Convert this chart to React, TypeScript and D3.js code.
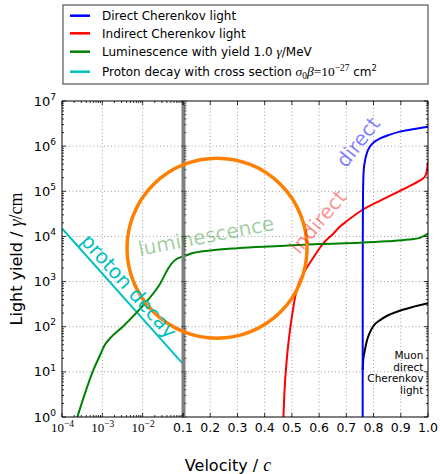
import { useRef, useEffect } from 'react';
import * as d3 from 'd3';

type Pt = [number, number];

// left panel: log velocity 1e-4 .. 0.1
const lumLeft: Pt[] = [
  [2.4e-4, 1], [3.7e-4, 3.3], [6.0e-4, 11], [8.7e-4, 23], [1.12e-3, 38], [1.55e-3, 55],
  [3.2e-3, 100], [9.5e-3, 275], [2.5e-2, 800], [5.2e-2, 2500], [7.1e-2, 3200], [0.1, 3600],
];
const protonDecay: Pt[] = [[1e-4, 1.5e4], [0.1, 15]];

// right panel: linear velocity 0.1 .. 1.0
const lumRight: Pt[] = [
  [0.1, 3550], [0.13, 4200], [0.2, 4900], [0.3, 5500], [0.45, 6100], [0.6, 6800],
  [0.75, 7250], [0.85, 7800], [0.93, 8500], [0.97, 9300], [1.0, 11500],
];
const indirect: Pt[] = [
  [0.469, 1], [0.472, 3], [0.481, 18], [0.49, 60], [0.5, 165], [0.512, 460], [0.525, 900],
  [0.542, 1500], [0.573, 3000], [0.616, 7100], [0.65, 11200], [0.677, 16600], [0.702, 21900],
  [0.757, 38000], [0.83, 64500], [0.897, 102000], [0.95, 148000], [0.971, 174000],
  [0.985, 200000], [0.993, 240000], [0.997, 316000], [1.0, 457000],
];
const direct: Pt[] = [
  [0.76, 1], [0.7602, 1e3], [0.7605, 1e4], [0.761, 5e4], [0.762, 1.5e5], [0.764, 3e5],
  [0.769, 4.9e5], [0.777, 7.5e5], [0.787, 9.8e5], [0.8, 1.2e6], [0.824, 1.48e6], [0.86, 1.8e6],
  [0.897, 2.1e6], [0.95, 2.4e6], [1.0, 2.7e6],
];
const muonDirect: Pt[] = [
  [0.76, 11], [0.762, 18], [0.767, 28], [0.776, 50], [0.788, 78], [0.8, 105], [0.824, 140],
  [0.85, 175], [0.886, 215], [0.94, 270], [1.0, 330],
];

const yTicks = [1, 10, 100, 1e3, 1e4, 1e5, 1e6, 1e7];
const leftXTicks = [1e-4, 1e-3, 1e-2, 1e-1];
const leftXLabels = ['−4', '−3', '−2'];
const rightXTicks = [0.1, 0.2, 0.3, 0.4, 0.5, 0.6, 0.7, 0.8, 0.9, 1.0];
const rightXLabels = ['0.1', '0.2', '0.3', '0.4', '0.5', '0.6', '0.7', '0.8', '0.9', '1.0'];

const circleCenter: Pt = [0.225, 5500];
const muonLabel = ['Muon', 'direct', 'Cherenkov', 'light'];

type Seg = { t: string; sup?: boolean; sub?: boolean; math?: boolean; roman?: boolean };

const legendItems: { color: string; segs: Seg[] }[] = [
  { color: '#0000ff', segs: [{ t: 'Direct Cherenkov light' }] },
  { color: '#ff0000', segs: [{ t: 'Indirect Cherenkov light' }] },
  { color: '#008000', segs: [{ t: 'Luminescence with yield 1.0 ' }, { t: 'γ', math: true }, { t: '/MeV' }] },
  {
    color: '#00bfbf',
    segs: [
      { t: 'Proton decay with cross section ' }, { t: 'σ', math: true }, { t: '0', sub: true, roman: true },
      { t: 'β', math: true }, { t: '=10', roman: true }, { t: '−27', sup: true, roman: true },
      { t: '  cm' }, { t: '2', sup: true },
    ],
  },
];

const SANS = 'DejaVu Sans';
const SERIF = 'Liberation Serif';

function rich(sel: d3.Selection<SVGTextElement, unknown, null, undefined>, segs: Seg[], size: number) {
  let shift = 0;
  for (const s of segs) {
    const target = s.sup ? -size * 0.45 : s.sub ? size * 0.25 : 0;
    const ts = sel.append('tspan').attr('dy', target - shift).text(s.t);
    shift = target;
    let fs = s.sup || s.sub ? size * 0.7 : size;
    if (s.math || s.roman) {
      fs *= 1.12;
      ts.attr('font-family', SERIF);
    }
    if (s.math) ts.attr('font-style', 'italic');
    ts.attr('font-size', fs);
  }
}

export default function App() {
  const svgRef = useRef<SVGSVGElement>(null);

  useEffect(() => {
    if (!svgRef.current) return;
    const svg = d3.select(svgRef.current);
    svg.selectAll('*').remove();

    const top = 101, bottom = 417, left = 62, mid = 183, right = 428;

    const y = d3.scaleLog().domain([1, 1e7]).range([bottom, top]);
    const xL = d3.scaleLog().domain([1e-4, 0.1]).range([left, mid]);
    const xR = d3.scaleLinear().domain([0.1, 1.0]).range([mid, right]);

    const defs = svg.append('defs');
    defs.append('clipPath').attr('id', 'clipL').append('rect')
      .attr('x', left).attr('y', top).attr('width', mid - left).attr('height', bottom - top);
    defs.append('clipPath').attr('id', 'clipR').append('rect')
      .attr('x', mid).attr('y', top).attr('width', right - mid).attr('height', bottom - top);

    // grid
    const grid = svg.append('g').attr('stroke', '#888').attr('stroke-width', 0.8).attr('stroke-dasharray', '1,2.5');
    for (const t of yTicks.slice(1, -1)) {
      grid.append('line').attr('x1', left).attr('x2', right).attr('y1', y(t)).attr('y2', y(t));
    }
    for (const t of leftXTicks.slice(1, -1)) {
      grid.append('line').attr('x1', xL(t)).attr('x2', xL(t)).attr('y1', top).attr('y2', bottom);
    }
    for (const t of rightXTicks.slice(1, -1)) {
      grid.append('line').attr('x1', xR(t)).attr('x2', xR(t)).attr('y1', top).attr('y2', bottom);
    }

    // curves
    const lineL = d3.line<Pt>().x((d) => xL(d[0])).y((d) => y(d[1])).curve(d3.curveMonotoneX);
    const lineR = d3.line<Pt>().x((d) => xR(d[0])).y((d) => y(d[1])).curve(d3.curveMonotoneX);
    const gL = svg.append('g').attr('clip-path', 'url(#clipL)');
    const gR = svg.append('g').attr('clip-path', 'url(#clipR)');

    const draw = (g: typeof gL, data: Pt[], line: typeof lineL, color: string) =>
      g.append('path').datum(data).attr('d', line).attr('fill', 'none')
        .attr('stroke', color).attr('stroke-width', 2);

    draw(gL, protonDecay, lineL, '#00bfbf');
    draw(gL, lumLeft, lineL, '#008000');
    draw(gR, muonDirect, lineR, '#000000');
    draw(gR, indirect, lineR, '#ff0000');
    draw(gR, direct, lineR, '#0000ff');
    draw(gR, lumRight, lineR, '#008000');

    // spines
    const sp = svg.append('g').attr('stroke', '#000').attr('stroke-width', 1).attr('fill', 'none');
    sp.append('path').attr('d', `M${mid},${top}H${left}V${bottom}H${mid}`);
    sp.append('path').attr('d', `M${mid},${top}H${right}V${bottom}H${mid}`);

    // divider between the two panels
    svg.append('rect').attr('x', mid - 1.5).attr('y', top).attr('width', 4).attr('height', bottom - top).attr('fill', '#808080');

    // ticks
    const tk = svg.append('g').attr('stroke', '#000').attr('stroke-width', 0.8);
    const tkDiv = svg.append('g').attr('stroke', '#333').attr('stroke-width', 0.7);
    const minorY: number[] = [];
    for (let e = 0; e < 7; e++) for (let k = 2; k < 10; k++) minorY.push(k * 10 ** e);
    for (const t of yTicks) {
      tk.append('line').attr('x1', left).attr('x2', left + 4).attr('y1', y(t)).attr('y2', y(t));
      tkDiv.append('line').attr('x1', mid - 2).attr('x2', mid + 4).attr('y1', y(t)).attr('y2', y(t));
      tk.append('line').attr('x1', right - 4).attr('x2', right).attr('y1', y(t)).attr('y2', y(t));
    }
    for (const t of minorY) {
      tk.append('line').attr('x1', left).attr('x2', left + 2).attr('y1', y(t)).attr('y2', y(t));
      tkDiv.append('line').attr('x1', mid + 1).attr('x2', mid + 3.5).attr('y1', y(t)).attr('y2', y(t));
      tk.append('line').attr('x1', right - 2).attr('x2', right).attr('y1', y(t)).attr('y2', y(t));
    }
    const minorXL: number[] = [];
    for (let e = -4; e < -1; e++) for (let k = 2; k < 10; k++) minorXL.push(k * 10 ** e);
    for (const t of leftXTicks) {
      tk.append('line').attr('x1', xL(t)).attr('x2', xL(t)).attr('y1', bottom).attr('y2', bottom - 4);
      tk.append('line').attr('x1', xL(t)).attr('x2', xL(t)).attr('y1', top).attr('y2', top + 4);
    }
    for (const t of minorXL) {
      tk.append('line').attr('x1', xL(t)).attr('x2', xL(t)).attr('y1', bottom).attr('y2', bottom - 2);
      tk.append('line').attr('x1', xL(t)).attr('x2', xL(t)).attr('y1', top).attr('y2', top + 2);
    }
    for (const t of rightXTicks) {
      tk.append('line').attr('x1', xR(t)).attr('x2', xR(t)).attr('y1', bottom).attr('y2', bottom - 4);
      tk.append('line').attr('x1', xR(t)).attr('x2', xR(t)).attr('y1', top).attr('y2', top + 4);
    }

    // tick labels
    yTicks.forEach((t, i) => {
      const tx = svg.append('text').attr('x', 56).attr('y', y(t) + 4.5).attr('text-anchor', 'end')
        .attr('font-family', SANS).attr('font-size', 13);
      rich(tx, [{ t: '10' }, { t: String(i), sup: true }], 13);
    });
    leftXLabels.forEach((lab, i) => {
      const tx = svg.append('text').attr('x', xL(leftXTicks[i]) + 0.5).attr('y', 432).attr('text-anchor', 'middle')
        .attr('font-family', SERIF).attr('font-size', 13);
      tx.append('tspan').text('10');
      tx.append('tspan').attr('dy', -5.5).attr('font-size', 9.5).text(lab);
    });
    rightXTicks.forEach((t, i) => {
      svg.append('text').attr('x', xR(t)).attr('y', 432).attr('text-anchor', 'middle')
        .attr('font-family', SANS).attr('font-size', 12.5).text(rightXLabels[i]);
    });

    // axis labels
    const xlab = svg.append('text').attr('x', 228).attr('y', 471).attr('text-anchor', 'middle')
      .attr('font-family', SANS).attr('font-size', 16);
    rich(xlab, [{ t: 'Velocity / ' }, { t: 'c', math: true }], 16);
    const ylab = svg.append('text').attr('transform', `translate(22,${(top + bottom) / 2}) rotate(-90)`)
      .attr('text-anchor', 'middle').attr('font-family', SANS).attr('font-size', 16);
    rich(ylab, [{ t: 'Light yield / ' }, { t: 'γ', math: true }, { t: '/cm', roman: true }], 16);

    // orange circle marker
    svg.append('circle').attr('cx', xR(circleCenter[0])).attr('cy', y(circleCenter[1])).attr('r', 90)
      .attr('fill', 'none').attr('stroke', '#ff8000').attr('stroke-width', 3.5);

    // annotations
    const ann = (x: number, yy: number, rot: number, txt: string, color: string, op: number) =>
      svg.append('text').attr('transform', `translate(${x},${yy}) rotate(${rot})`)
        .attr('text-anchor', 'middle').attr('dominant-baseline', 'central')
        .attr('font-family', SANS).attr('font-size', 20).attr('fill', color).attr('fill-opacity', op).text(txt);
    ann(xL(4.6e-3), y(790), 48, 'proton decay', '#00bfbf', 1);
    ann(xR(0.1845), y(10200), -11, 'luminescence', '#008000', 0.38);
    ann(xR(0.596), y(21000), -50, 'indirect', '#ff0000', 0.45);
    ann(xR(0.743), y(1.24e6), -52, 'direct', '#0000ff', 0.5);

    muonLabel.forEach((line, i) => {
      svg.append('text').attr('x', xR(0.983)).attr('y', 359 + i * 11.7).attr('text-anchor', 'end')
        .attr('font-family', SANS).attr('font-size', 10.5).text(line);
    });

    // legend
    const lg = svg.append('g');
    lg.append('rect').attr('x', 63).attr('y', 5).attr('width', 365).attr('height', 79)
      .attr('fill', '#fff').attr('stroke', '#555').attr('stroke-width', 1.2);
    const rowY = [15.7, 33.3, 51.7, 71.7];
    legendItems.forEach((it, i) => {
      lg.append('line').attr('x1', 70).attr('x2', 90).attr('y1', rowY[i]).attr('y2', rowY[i])
        .attr('stroke', it.color).attr('stroke-width', 2.5);
      const tx = lg.append('text').attr('x', 102).attr('y', rowY[i] + 4.3)
        .attr('font-family', SANS).attr('font-size', 12);
      rich(tx, it.segs, 12);
    });
  }, []);

  return (
    <svg
      ref={svgRef}
      width={440}
      height={474}
      style={{ position: 'absolute', left: 0, top: 0, background: '#fff' }}
    />
  );
}
